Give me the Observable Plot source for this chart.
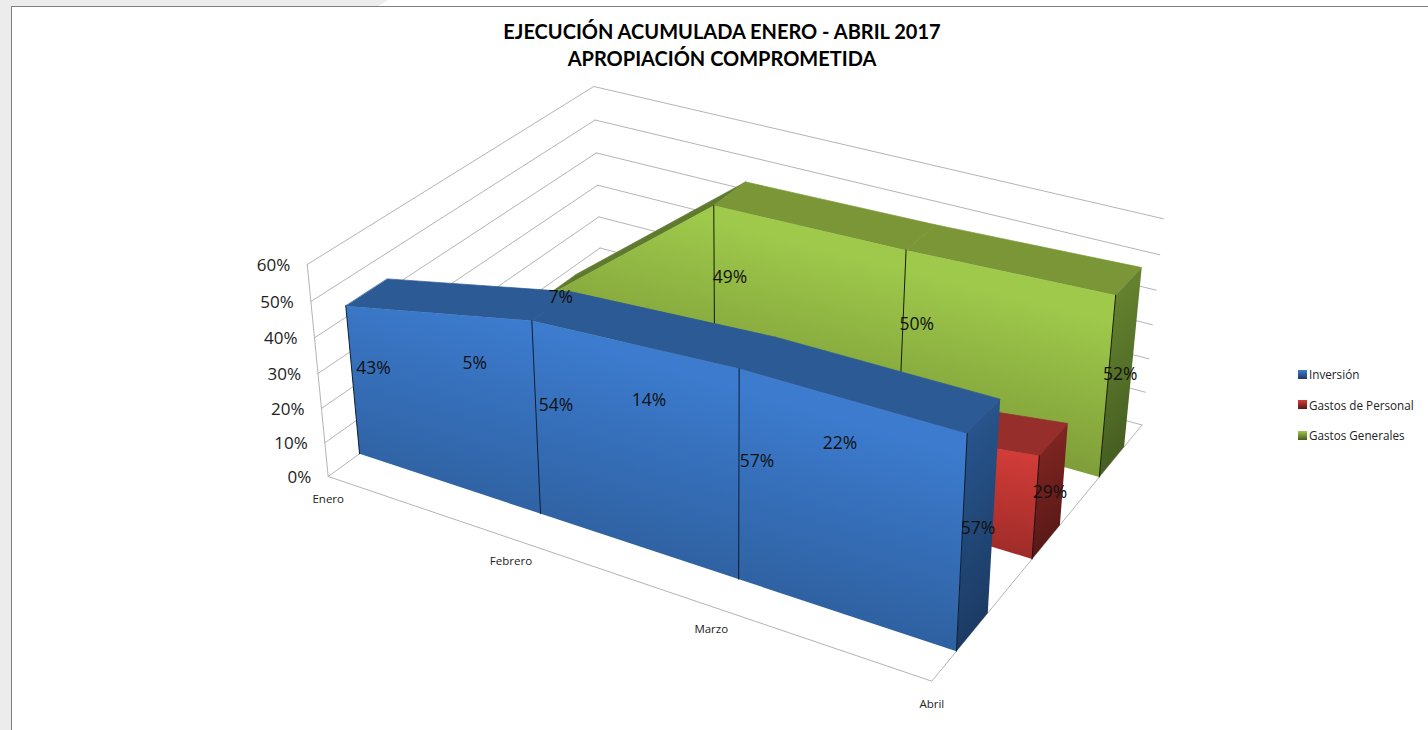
<!DOCTYPE html>
<html lang="es">
<head>
<meta charset="utf-8">
<script src="https://cdn.jsdelivr.net/npm/d3@7"></script>
<script src="https://cdn.jsdelivr.net/npm/@observablehq/plot@0.6"></script>
<style>
html,body{margin:0;padding:0;background:#fff;width:1428px;height:730px;overflow:hidden}
#page{position:relative;width:1428px;height:730px;overflow:hidden}
#gl{position:absolute;left:0;top:0;width:11px;height:730px;background:#ececec}
#gt{position:absolute;left:0;top:0;width:388px;height:6px;background:#ececec;clip-path:polygon(0 0,100% 0,97.5% 100%,0 100%)}
#bl{position:absolute;left:11px;top:6px;width:1px;height:724px;background:#808080}
#bt{position:absolute;left:11px;top:6px;width:1417px;height:1px;background:#808080}
#chart{position:absolute;left:0;top:0}
#title{position:absolute;left:422px;top:18px;width:600px;text-align:center;font:bold 20px/27px Lato,sans-serif;color:#000}
#legend{position:absolute;left:1298px;top:365px;font:11.7px "Open Sans",sans-serif;color:#222}
#legend div{line-height:18px;white-space:nowrap;display:flex;align-items:center;height:18px;margin-bottom:12.6px}
#legend i{display:inline-block;width:9px;height:9px;margin-right:2px}
</style>
</head>
<body>
<div id="page">
<div id="gl"></div><div id="gt"></div><div id="bl"></div><div id="bt"></div>
<div id="chart"></div>
<div id="title">EJECUCIÓN ACUMULADA ENERO - ABRIL 2017<br>APROPIACIÓN COMPROMETIDA</div>
<div id="legend"></div>
</div>
<script>
const months = ["Enero", "Febrero", "Marzo", "Abril"];
const inversion = [43, 54, 57, 57];
const personal = [5, 14, 22, 29];
const generales = [7, 49, 50, 52];
const ticks = [0, 10, 20, 30, 40, 50, 60];
const seriesNames = ["Inversión", "Gastos de Personal", "Gastos Generales"];

// camera: corners of the 3D box on screen
function homography(p0, p1, p2, p3) {
  const [x0,y0]=p0,[x1,y1]=p1,[x2,y2]=p2,[x3,y3]=p3;
  const dx1=x1-x2,dx2=x3-x2,dx3=x0-x1+x2-x3,dy1=y1-y2,dy2=y3-y2,dy3=y0-y1+y2-y3;
  const den=dx1*dy2-dx2*dy1;
  const g=(dx3*dy2-dx2*dy3)/den,h=(dx1*dy3-dx3*dy1)/den;
  const a=x1-x0+g*x1,b=x3-x0+h*x3,d=y1-y0+g*y1,e=y3-y0+h*y3;
  return (u,v)=>{const w=g*u+h*v+1;return [(a*u+b*v+x0)/w,(d*u+e*v+y0)/w];};
}
const floorH = homography([327.7,476],[931.3,680.7],[1141.5,424.5],[600.7,278]);
const topH = homography([306.7,264],[941.5,447.7],[1163,218.3],[593.3,86]);
const maxV = 60, kH = 0.945;
function project(i, v, value) {
  const u = i/(months.length-1), a = floorH(u,v), b = topH(u,v), s = value/maxV;
  const t = kH*s/(1+(kH-1)*s);
  return {x:a[0]+(b[0]-a[0])*t, y:a[1]+(b[1]-a[1])*t};
}
const wallLeft = t => [project(0,0,t), project(0,1,t)];
const wallBack = t => [project(0,1,t), project(3,1,t)];

const slot = s => [(s+0.5)/3-1/15, (s+0.5)/3, (s+0.5)/3+1/15];

const styles = [
  {values:inversion, slot:slot(0), id:"b", face:["#3c7bce","#2e609f"], side:["#2a5a95","#1b3a62"], top:["#2b5a94","#2b5a94","#2b5a94"], line:"#0e1d30"},
  {values:personal, slot:slot(1), id:"r", face:["#d53d39","#9c2b28"], side:["#8a2825","#561816"], top:["#962e2b","#962e2b","#962e2b"], line:"#1d0807"},
  {values:generales, slot:slot(2), id:"g", face:["#9ec94b","#7e9c38"], side:["#6c8c32","#445c20"], top:["#5f7a2e","#7a9636","#7a9636"], line:"#141c08"}
];

const defs = () => {
  const d = d3.create("svg:defs");
  for (const s of styles) {
    const f = d.append("linearGradient").attr("id",s.id+"f").attr("x1",.04).attr("y1",-.08).attr("x2",-.21).attr("y2",.39);
    f.append("stop").attr("offset",0).attr("stop-color",s.face[0]);
    f.append("stop").attr("offset",1).attr("stop-color",s.face[1]);
    const g = d.append("linearGradient").attr("id",s.id+"s").attr("x1",0).attr("y1",0).attr("x2",0.2).attr("y2",1);
    g.append("stop").attr("offset",0).attr("stop-color",s.side[0]);
    g.append("stop").attr("offset",1).attr("stop-color",s.side[1]);
  }
  return d.node();
};

const marks = [defs];
const grid = {stroke:"#b4b4b4", strokeWidth:1, x:"x", y:"y"};
for (const t of ticks) {
  marks.push(Plot.line(wallLeft(t), grid));
  marks.push(Plot.line(wallBack(t), grid));
}
marks.push(Plot.line([project(0,0,0),project(0,0,60)], grid));
marks.push(Plot.line([project(0,0,0),project(3,0,0),project(3,1,0)], grid));

const poly = (pts, fill, stroke="none") => Plot.line(pts, {x:"x", y:"y", fill, stroke, strokeWidth:0.7, curve:"linear-closed"});
for (const s of [...styles].reverse()) {
  const [vf,,vb] = s.slot;
  s.values.slice(1).forEach((val,k)=>{
    marks.push(poly([project(k,vf,s.values[k]),project(k+1,vf,val),project(k+1,vb,val),project(k,vb,s.values[k])], s.top[k], s.top[k]));
  });
  const face = s.values.map((val,i)=>project(i,vf,val));
  face.push(project(3,vf,0), project(0,vf,0));
  marks.push(poly(face, `url(#${s.id}f)`));
  const last = s.values[3];
  marks.push(poly([project(3,vf,0),project(3,vf,last),project(3,vb,last),project(3,vb,0)], `url(#${s.id}s)`));
  s.values.forEach((val,i)=>{
    marks.push(Plot.line([project(i,vf,0),project(i,vf,val)], {x:"x",y:"y",stroke:s.line,strokeWidth:1}));
  });
}

const labels = styles.flatMap(s => s.values.map((val,i)=>({...project(i,s.slot[1],val/2), text:val+"%"})));
const tickRows = ticks.map(t=>({...project(0,0,t), text:t+"%"}));
const catRows = months.map((m,i)=>({...project(i,0,0), text:m}));
const font = '"Open Sans",sans-serif';
marks.push(Plot.text(tickRows,{x:"x",y:"y",text:"text",textAnchor:"end",dx:-17,dy:1,fontSize:17,fill:"#222",fontFamily:font}));
marks.push(Plot.text(catRows,{x:"x",y:"y",text:"text",dy:23,fontSize:11.5,fill:"#222",fontFamily:font}));
marks.push(Plot.text(labels,{x:"x",y:"y",text:"text",dy:1,fontSize:17.5,fill:"#111",fontFamily:font}));

const svg = Plot.plot({
  width:1428, height:730, margin:0,
  x:{domain:[0,1428],range:[0,1428],axis:null},
  y:{domain:[0,730],range:[0,730],axis:null},
  style:{background:"transparent",overflow:"visible"},
  marks
});
document.getElementById("chart").appendChild(svg);

const lg = d3.select("#legend");
styles.forEach((s,i)=>{
  const row = lg.append("div");
  row.append("i").style("background",`linear-gradient(${s.face[0]},${s.side[1]})`);
  row.append("span").text(seriesNames[i]);
});
</script>
</body>
</html>
